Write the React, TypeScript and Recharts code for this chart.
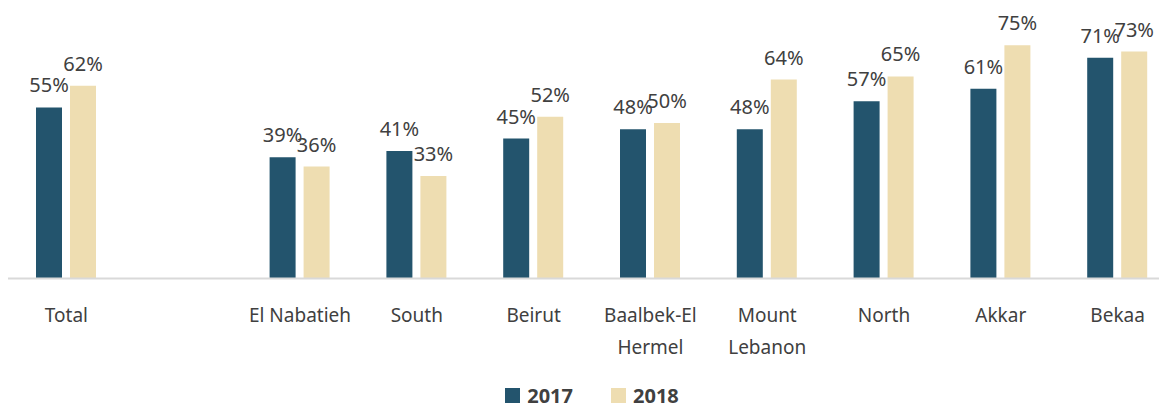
import React from 'react';
import { BarChart, Bar, XAxis, YAxis, Legend, LabelList } from 'recharts';

const regions = ['Total', '', 'El Nabatieh', 'South', 'Beirut', 'Baalbek-El\nHermel', 'Mount\nLebanon', 'North', 'Akkar', 'Bekaa'];
const values2017 = [55, null, 39, 41, 45, 48, 48, 57, 61, 71];
const values2018 = [62, null, 36, 33, 52, 50, 64, 65, 75, 73];

const data = regions.map((name, i) => ({ name, y2017: values2017[i], y2018: values2018[i] }));

const DARK = '#23546D';
const BEIGE = '#EEDDB1';
const TEXT = '#404040';
const FONT = '"Noto Sans", sans-serif';

const fmt = (v: any) => (v == null ? '' : `${v}%`);

const RegionTick = (props: any) => {
  const { x, y, payload } = props;
  const lines = String(payload.value).split('\n');
  return (
    <text x={x} y={y} textAnchor="middle" fill={TEXT} fontSize={19} fontFamily={FONT}>
      {lines.map((l, i) => (
        <tspan key={i} x={x} dy={i === 0 ? 43 : 32}>{l}</tspan>
      ))}
    </text>
  );
};

const LegendBox = () => (
  <div style={{ height: 30, boxSizing: 'border-box', paddingTop: 9, display: 'flex', justifyContent: 'center', fontFamily: FONT, fontWeight: 700, fontSize: 20, color: TEXT, lineHeight: '21px' }}>
    {[['2017', DARK], ['2018', BEIGE]].map(([label, color], i) => (
      <div key={label} style={{ display: 'flex', alignItems: 'center', marginLeft: i ? 38 : 0 }}>
        <span style={{ width: 15, height: 15, background: color, display: 'inline-block', marginRight: 7 }} />
        <span>{label}</span>
      </div>
    ))}
  </div>
);

export default function App() {
  return (
    <div style={{ width: 1159, overflow: 'hidden' }}>
      <BarChart width={1168} height={398} data={data} margin={{ top: 0, right: 0, left: 0, bottom: 0 }} barGap={8}>
        <XAxis
          dataKey="name"
          interval={0}
          tickLine={false}
          tickSize={0}
          tickMargin={0}
          height={97.5}
          axisLine={{ stroke: '#D9D9D9', strokeWidth: 2 }}
          tick={<RegionTick />}
        />
        <YAxis hide domain={[0, 87]} />
        <Legend verticalAlign="bottom" height={30} content={<LegendBox />} />
        <Bar dataKey="y2017" fill={DARK} barSize={26} isAnimationActive={false}>
          <LabelList dataKey="y2017" position="top" offset={15} formatter={fmt} fill={TEXT} fontSize={20} fontFamily={FONT} />
        </Bar>
        <Bar dataKey="y2018" fill={BEIGE} barSize={26} isAnimationActive={false}>
          <LabelList dataKey="y2018" position="top" offset={15} formatter={fmt} fill={TEXT} fontSize={20} fontFamily={FONT} />
        </Bar>
      </BarChart>
    </div>
  );
}
